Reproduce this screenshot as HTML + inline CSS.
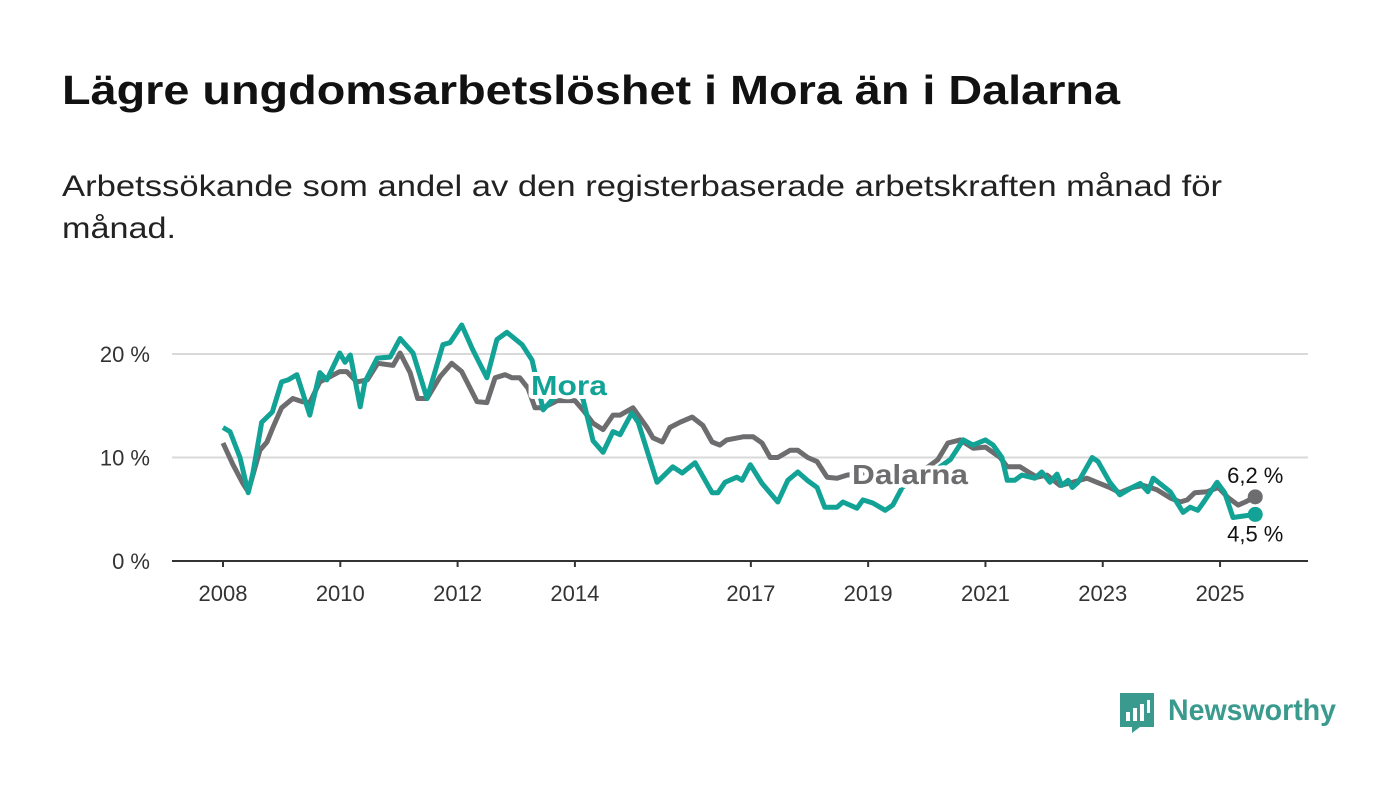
<!DOCTYPE html>
<html><head><meta charset="utf-8"><style>
body{margin:0;background:#fff;width:1400px;height:794px;overflow:hidden;font-family:"Liberation Sans",sans-serif}
</style></head><body>
<svg width="1400" height="794" xmlns="http://www.w3.org/2000/svg">
<text x="62" y="104" font-size="41" font-weight="bold" fill="#111" textLength="1058" lengthAdjust="spacingAndGlyphs">Lägre ungdomsarbetslöshet i Mora än i Dalarna</text>
<text x="62" y="196" font-size="30" fill="#222" textLength="1160" lengthAdjust="spacingAndGlyphs">Arbetssökande som andel av den registerbaserade arbetskraften månad för</text>
<text x="62" y="238" font-size="30" fill="#222" textLength="114" lengthAdjust="spacingAndGlyphs">månad.</text>
<g id="plot"></g>
<g>
<path d="M1120 693 h34 v34 h-14 l-8 6 v-6 h-12 z" fill="#3a9a8e"/>
<rect x="1126" y="712" width="4" height="9" fill="#fff"/><rect x="1133" y="708" width="4" height="13" fill="#fff"/><rect x="1140" y="704" width="4" height="17" fill="#fff"/><rect x="1147" y="700" width="3" height="13" fill="#fff"/>
<text x="1168" y="720" font-size="30" font-weight="bold" fill="#3a9a8e" textLength="168" lengthAdjust="spacingAndGlyphs">Newsworthy</text>
</g>
</svg>
<script>
const yTicks=[0,10,20];
const xTicks=[2008,2010,2012,2014,2017,2019,2021,2023,2025];
const moraT=[2008.0,2008.12,2008.29,2008.43,2008.51,2008.66,2008.84,2009.0,2009.11,2009.26,2009.48,2009.65,2009.77,2009.99,2010.08,2010.17,2010.34,2010.42,2010.63,2010.85,2011.02,2011.24,2011.48,2011.75,2011.87,2012.07,2012.26,2012.5,2012.67,2012.84,2013.1,2013.27,2013.46,2013.6,2013.8,2014.0,2014.14,2014.31,2014.48,2014.65,2014.77,2014.97,2015.08,2015.4,2015.67,2015.83,2016.05,2016.34,2016.44,2016.56,2016.76,2016.85,2016.99,2017.19,2017.46,2017.63,2017.8,2017.96,2018.13,2018.26,2018.47,2018.57,2018.81,2018.91,2019.08,2019.29,2019.42,2019.58,2019.8,2020.0,2020.2,2020.4,2020.62,2020.79,2021.0,2021.13,2021.28,2021.37,2021.5,2021.62,2021.84,2021.96,2022.1,2022.22,2022.3,2022.41,2022.48,2022.58,2022.82,2022.92,2023.12,2023.29,2023.5,2023.64,2023.77,2023.86,2024.15,2024.37,2024.49,2024.62,2024.71,2024.95,2025.08,2025.22,2025.6];
const moraV=[12.9,12.5,10.0,6.6,8.5,13.4,14.4,17.3,17.5,18.0,14.1,18.2,17.5,20.1,19.2,19.9,14.9,17.3,19.6,19.7,21.5,20.1,15.7,20.9,21.1,22.8,20.4,17.7,21.4,22.1,20.9,19.4,14.6,15.5,16.5,17.0,15.6,11.6,10.5,12.5,12.2,14.3,13.4,7.6,9.1,8.5,9.5,6.6,6.6,7.6,8.1,7.8,9.3,7.5,5.7,7.8,8.6,7.8,7.1,5.2,5.2,5.7,5.1,5.9,5.6,4.9,5.4,7.1,8.0,8.5,9.0,9.8,11.7,11.2,11.7,11.2,10.0,7.8,7.8,8.3,8.0,8.6,7.6,8.4,7.3,7.8,7.1,7.6,10.0,9.6,7.6,6.4,7.1,7.5,6.7,8.0,6.7,4.7,5.2,4.9,5.6,7.6,6.6,4.2,4.5];
const dalT=[2008.0,2008.17,2008.34,2008.43,2008.63,2008.75,2008.85,2009.0,2009.19,2009.35,2009.48,2009.65,2009.79,2009.99,2010.11,2010.28,2010.46,2010.64,2010.9,2011.02,2011.19,2011.32,2011.48,2011.7,2011.9,2012.07,2012.33,2012.5,2012.64,2012.81,2012.93,2013.06,2013.2,2013.32,2013.46,2013.7,2014.0,2014.15,2014.31,2014.48,2014.65,2014.77,2014.99,2015.23,2015.33,2015.49,2015.62,2015.79,2016.0,2016.18,2016.34,2016.47,2016.59,2016.87,2017.04,2017.19,2017.33,2017.46,2017.67,2017.8,2017.97,2018.13,2018.3,2018.47,2018.64,2018.9,2019.2,2019.5,2019.8,2020.0,2020.19,2020.36,2020.57,2020.79,2021.0,2021.25,2021.37,2021.59,2021.73,2021.88,2022.05,2022.27,2022.49,2022.73,2022.9,2023.12,2023.29,2023.5,2023.69,2023.92,2024.15,2024.32,2024.44,2024.57,2024.78,2024.97,2025.14,2025.31,2025.43,2025.6];
const dalV=[11.4,9.3,7.5,6.7,10.7,11.5,12.9,14.8,15.7,15.4,15.3,17.3,17.7,18.3,18.3,17.3,17.5,19.1,18.9,20.1,18.2,15.7,15.7,17.8,19.1,18.3,15.4,15.3,17.7,18.0,17.7,17.7,16.7,14.8,14.8,15.5,15.5,14.5,13.3,12.7,14.1,14.1,14.8,12.9,11.9,11.5,12.9,13.4,13.9,13.1,11.5,11.2,11.7,12.0,12.0,11.4,10.0,10.0,10.7,10.7,10.0,9.6,8.1,8.0,8.3,8.5,8.7,8.5,8.8,9.0,9.8,11.4,11.7,10.9,11.0,10.0,9.1,9.1,8.6,8.1,8.3,7.3,7.6,8.0,7.6,7.1,6.6,7.1,7.3,6.9,6.1,5.7,5.9,6.6,6.7,7.1,6.1,5.4,5.7,6.2];
const NS="http://www.w3.org/2000/svg";
const X=t=>223+(t-2008)*58.65, Y=v=>561-v*10.35;
const g=document.getElementById('plot');
function mk(tag,attrs,txt){const e=document.createElementNS(NS,tag);for(const k in attrs)e.setAttribute(k,attrs[k]);if(txt!=null)e.textContent=txt;g.appendChild(e);return e;}
yTicks.forEach(v=>{
 if(v>0){const l=mk('line',{x1:172,x2:1308,y1:Y(v),y2:Y(v),stroke:'#d9d9d9','stroke-width':2});
 
 }
 const t=mk('text',{x:150,y:Y(v)+8,'text-anchor':'end','font-size':22,fill:'#333'},v+' %');
 
 
});
const ax=mk('line',{x1:172,x2:1308,y1:561,y2:561,stroke:'#333','stroke-width':2});


xTicks.forEach(yr=>{
 mk('line',{x1:X(yr),x2:X(yr),y1:561,y2:567,stroke:'#333','stroke-width':2});
 const t=mk('text',{x:X(yr),y:601,'text-anchor':'middle','font-size':22,fill:'#333'},String(yr));
 
 
});
function line(T,V,col,name){
 const p=mk('path',{d:T.map((t,i)=>(i?'L':'M')+X(t).toFixed(1)+' '+Y(V[i]).toFixed(1)).join(''),fill:'none',stroke:col,'stroke-width':5,'stroke-linejoin':'round'});
 
 
 const n=T.length-1;
 const c=mk('circle',{cx:X(T[n]),cy:Y(V[n]),r:7.5,fill:col});
 
 
}
line(dalT,dalV,'#6d6d70','dalarna');
line(moraT,moraV,'#12a396','mora');
const lm=mk('text',{x:531,y:395,'font-size':28,'font-weight':'bold',fill:'#12a396',stroke:'#fff','stroke-width':8,'paint-order':'stroke','stroke-linejoin':'round',textLength:76,lengthAdjust:'spacingAndGlyphs'},'Mora');


const ld=mk('text',{x:852,y:484,'font-size':28,'font-weight':'bold',fill:'#6d6d70',stroke:'#fff','stroke-width':8,'paint-order':'stroke','stroke-linejoin':'round',textLength:116,lengthAdjust:'spacingAndGlyphs'},'Dalarna');


const nd=dalT.length-1, nm=moraT.length-1;
const vd=mk('text',{x:X(dalT[nd]),y:Y(dalV[nd])-14,'text-anchor':'middle','font-size':22,fill:'#111',stroke:'#fff','stroke-width':4,'paint-order':'stroke'},dalV[nd].toFixed(1).replace('.',',')+' %');


const vm=mk('text',{x:X(moraT[nm]),y:Y(moraV[nm])+27,'text-anchor':'middle','font-size':22,fill:'#111',stroke:'#fff','stroke-width':4,'paint-order':'stroke'},moraV[nm].toFixed(1).replace('.',',')+' %');


</script>
</body></html>
